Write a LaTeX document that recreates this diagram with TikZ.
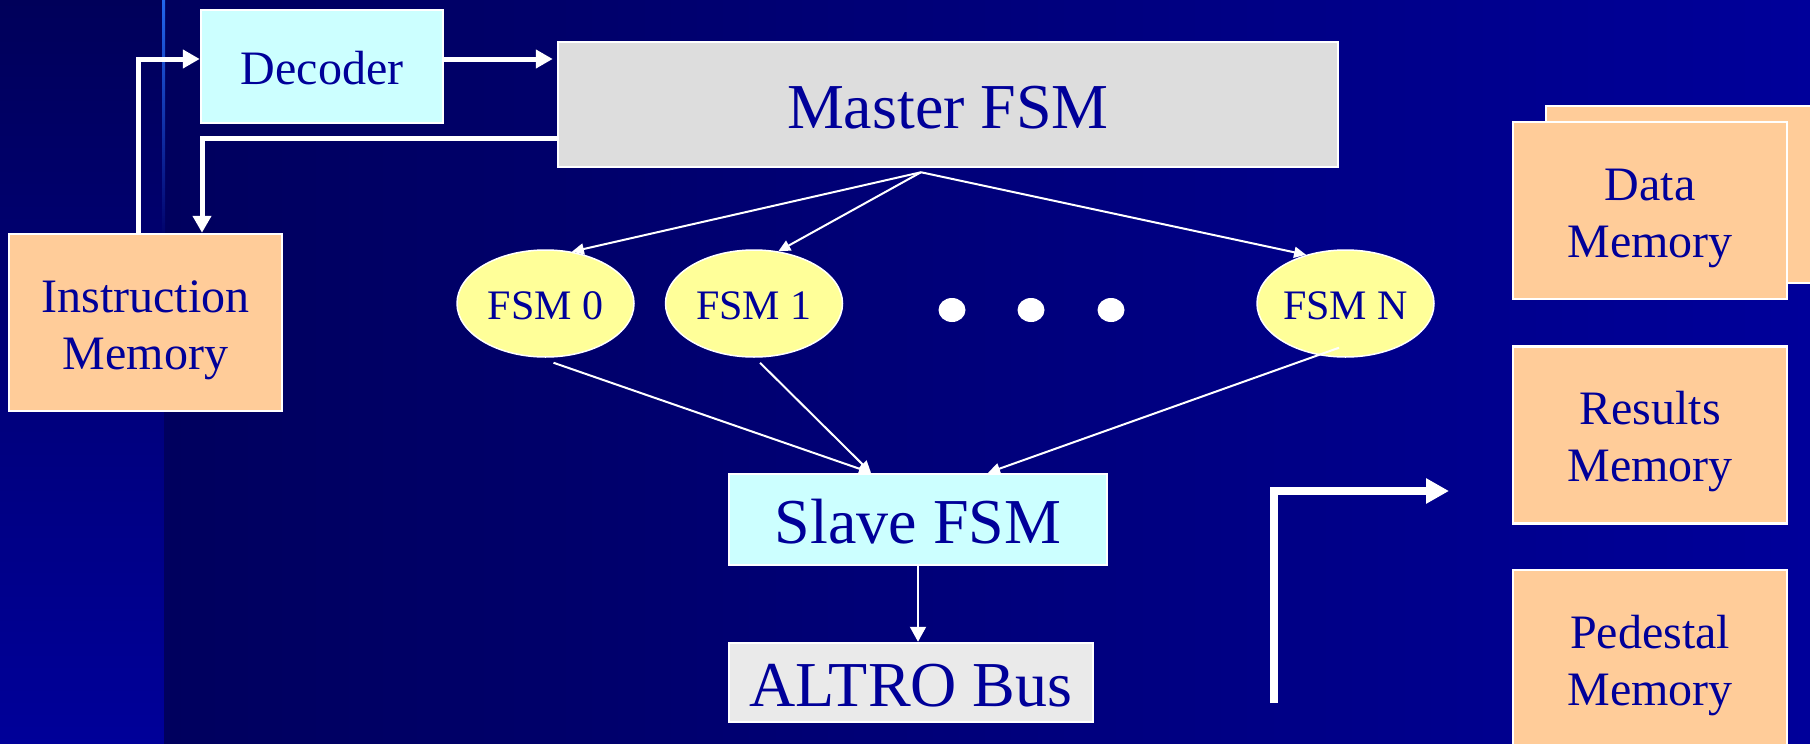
\documentclass[tikz,border=0pt]{standalone}
\usepackage{fontspec}
\setmainfont{Liberation Serif}
\usetikzlibrary{arrows.meta,shapes.geometric}
\definecolor{navytext}{HTML}{000099}
\definecolor{cyanbox}{HTML}{CCFFFF}
\definecolor{greybox}{HTML}{DDDDDD}
\definecolor{altrobox}{HTML}{EAEAEA}
\definecolor{peach}{HTML}{FFCC99}
\definecolor{fsmyellow}{HTML}{FFFF99}
\definecolor{bgdark}{HTML}{00005E}
\definecolor{bgmid}{HTML}{000068}
\definecolor{bgblue}{HTML}{00009A}
\definecolor{stripTop}{HTML}{00005A}
\definecolor{stripBot}{HTML}{000099}
\definecolor{glow}{HTML}{2266EE}
\begin{document}
\begin{tikzpicture}[x=1pt,y=-1pt,
  box/.style={draw=white, line width=2.5pt, inner sep=0pt, text=navytext, align=center},
  bigfont/.style={font=\fontsize{64}{77}\selectfont, text height=47pt, text depth=0pt},
  midfont/.style={font=\fontsize{48}{57}\selectfont, text height=35pt, text depth=0pt},
  membox/.style={box, fill=peach, minimum width=274pt, minimum height=177pt,
     font=\fontsize{48}{57}\selectfont, text height=93pt, text depth=0pt},
  fsm/.style={ellipse, draw=white, line width=1.5pt, fill=fsmyellow, minimum width=177pt,
     minimum height=107pt, inner sep=0pt, text=navytext, font=\fontsize{42}{50}\selectfont,
     text height=31pt, text depth=0pt},
  dotnode/.style={ellipse, fill=white, minimum width=27pt, minimum height=24pt, inner sep=0pt},
  bigarrow/.style={draw=white, line width=5pt, -{Triangle[length=17pt,width=18pt]}},
  hugearrow/.style={draw=white, line width=8pt, -{Triangle[length=23pt,width=24pt]}},
  thinarrow/.style={draw=white, line width=2pt, -{Triangle[length=12pt,width=11pt]}},
  midarrow/.style={draw=white, line width=2pt, -{Triangle[length=15pt,width=16pt]}}
]
\useasboundingbox (0,0) rectangle (1810,744);
\clip (0,0) rectangle (1810,744);
% background
\fill[top color=stripTop, bottom color=stripBot] (0,0) rectangle (164,744);
\fill[left color=bgdark, right color=bgmid] (164,0) rectangle (500,744);
\fill[left color=bgmid, right color=bgblue] (500,0) rectangle (1810,744);
\fill[top color=glow, bottom color=bgmid] (162,0) rectangle (165,240);

% nodes
\node[box, midfont, fill=cyanbox, minimum width=242pt, minimum height=113pt] (dec) at (322,66.5) {Decoder};
\node[box, bigfont, fill=greybox, minimum width=780pt, minimum height=125pt] (master) at (948,104.5) {Master FSM};
\node[membox, minimum width=273pt] (im) at (145.5,322.5) {Instruction\\Memory};
\node[box, bigfont, fill=cyanbox, minimum width=378pt, minimum height=91pt] (slave) at (918,519.5) {Slave FSM};
\node[box, bigfont, fill=altrobox, minimum width=364pt, minimum height=79pt] (altro) at (911,682.5) {ALTRO Bus};

\node[box, fill=peach, minimum width=284pt, minimum height=177pt] (dmback) at (1688,194.5) {};
\node[membox] (dm) at (1650,210.5) {Data\\Memory};
\node[membox] (rm) at (1650,435) {Results\\Memory};
\node[membox] (pm) at (1650,658.5) {Pedestal\\Memory};

\node[fsm] (f0) at (545.5,303.5) {FSM 0};
\node[fsm] (f1) at (754,303.5) {FSM 1};
\node[fsm] (fN) at (1345.5,303.5) {FSM N};
\node[dotnode] (d1) at (952,310) {};
\node[dotnode] (d2) at (1031,310) {};
\node[dotnode] (d3) at (1111,310) {};

% connectors
\coordinate (decout) at ([yshift=7.5pt]dec.east);
\draw[bigarrow, shorten >=4pt] (decout) -- (decout -| master.west);
\coordinate (imout) at ([xshift=-7pt]im.north);
\coordinate (decin) at ([yshift=7.5pt]dec.west);
\draw[bigarrow] (imout) |- (decin);
\coordinate (mout) at ([yshift=-33.5pt]master.west);
\coordinate (imin) at ([xshift=56.5pt]im.north);
\draw[bigarrow] (mout) -| (imin);

\coordinate (fork) at ([shift={(-27pt,-4pt)}]master.south);
\draw[thinarrow] (fork) -- (f0.63);
\draw[thinarrow] (fork) -- (f1.65);
\draw[thinarrow] (fork) -- (fN.129);

\draw[thinarrow] ([shift={(8pt,-5pt)}]f0.south) -- ([xshift=-47pt]slave.north);
\draw[thinarrow] ([shift={(6pt,-5pt)}]f1.south) -- ([xshift=-47pt]slave.north);
\draw[thinarrow] ([shift={(-6.5pt,10pt)}]fN.south) -- ([xshift=70pt]slave.north);

\draw[midarrow] (slave.south) -- (slave.south |- altro.north);

\coordinate (brstart) at (1274,703);
\coordinate (brend) at (1449,491);
\draw[hugearrow] (brstart) |- (brend);
\end{tikzpicture}
\end{document}
